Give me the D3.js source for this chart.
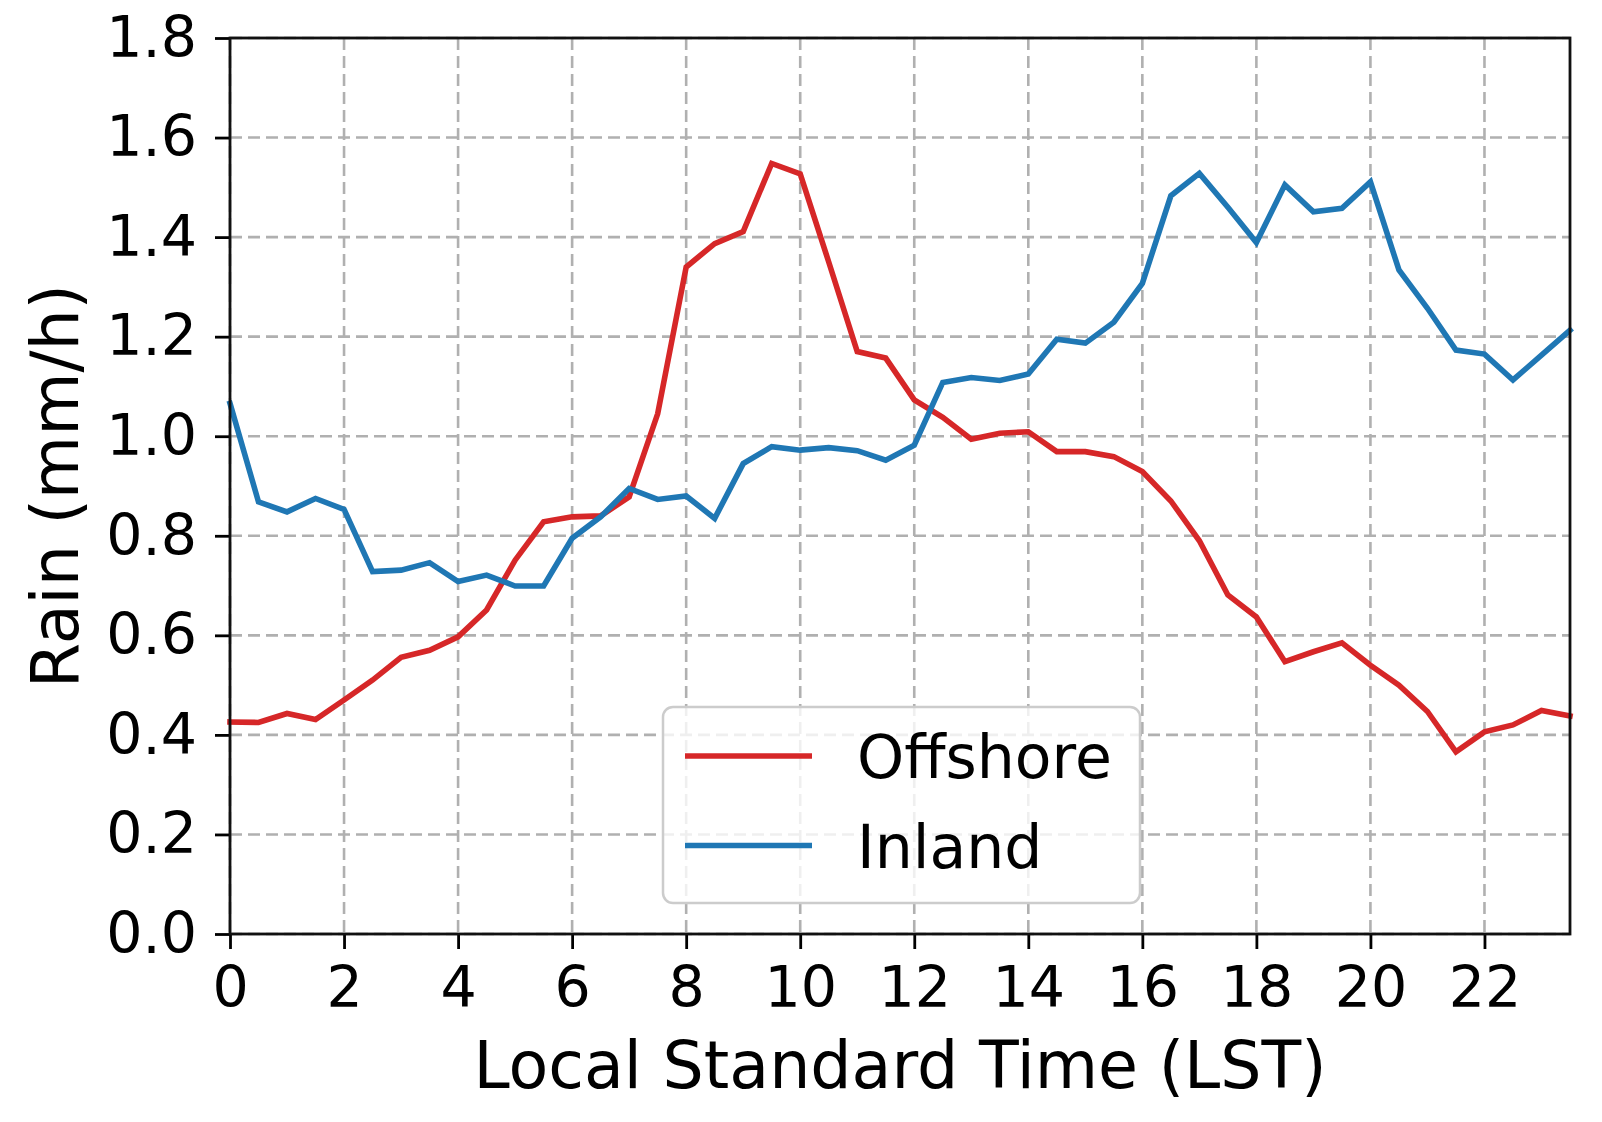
<!DOCTYPE html>
<html>
<head>
<meta charset="utf-8">
<script src="https://cdn.jsdelivr.net/npm/d3@7"></script>
<style>
  html, body { margin: 0; padding: 0; background: #fff; }
  svg { display: block; font-family: "DejaVu Sans", sans-serif; }
</style>
</head>
<body>
<svg id="chart" width="1602" height="1122"></svg>
<script>
const hours = [0, 0.5, 1, 1.5, 2, 2.5, 3, 3.5, 4, 4.5, 5, 5.5, 6, 6.5, 7, 7.5,
  8, 8.5, 9, 9.5, 10, 10.5, 11, 11.5, 12, 12.5, 13, 13.5, 14, 14.5, 15, 15.5,
  16, 16.5, 17, 17.5, 18, 18.5, 19, 19.5, 20, 20.5, 21, 21.5, 22, 22.5, 23, 23.5];

const offshore = [0.426, 0.425, 0.443, 0.431, 0.470, 0.510, 0.556, 0.570,
  0.597, 0.651, 0.751, 0.828, 0.838, 0.840, 0.878, 1.045,
  1.340, 1.387, 1.411, 1.548, 1.527, 1.350, 1.170, 1.157,
  1.073, 1.038, 0.994, 1.006, 1.009, 0.969, 0.969, 0.959,
  0.929, 0.870, 0.790, 0.681, 0.637, 0.547, 0.567, 0.585,
  0.540, 0.500, 0.447, 0.366, 0.406, 0.420, 0.449, 0.438];

const inland = [1.066, 0.868, 0.848, 0.875, 0.853, 0.728, 0.731, 0.746,
  0.708, 0.721, 0.699, 0.699, 0.795, 0.838, 0.895, 0.873,
  0.880, 0.835, 0.945, 0.979, 0.972, 0.977, 0.971, 0.952,
  0.982, 1.108, 1.118, 1.112, 1.125, 1.195, 1.187, 1.229,
  1.307, 1.483, 1.528, 1.460, 1.389, 1.505, 1.451, 1.458,
  1.511, 1.334, 1.257, 1.173, 1.165, 1.113, 1.163, 1.213];

const xTicks = [0, 2, 4, 6, 8, 10, 12, 14, 16, 18, 20, 22];
const yTicks = [0.0, 0.2, 0.4, 0.6, 0.8, 1.0, 1.2, 1.4, 1.6, 1.8];

const seriesNames = ["Offshore", "Inland"];
const seriesColors = ["#d62728", "#1f77b4"];

const svg = d3.select("#chart");
const L = 230, R = 1570, T = 38, B = 934;

const x = d3.scaleLinear().domain([0, 23.5]).range([L, R]);
const y = d3.scaleLinear().domain([0, 1.8]).range([B, T]);

// grid
const grid = svg.append("g");
grid.selectAll("line.gx").data(xTicks).join("line")
  .attr("x1", d => x(d)).attr("x2", d => x(d))
  .attr("y1", T).attr("y2", B)
  .attr("stroke", "#b0b0b0").attr("stroke-width", 2.6)
  .attr("stroke-dasharray", "12,6");
grid.selectAll("line.gy").data(yTicks).join("line")
  .attr("x1", L).attr("x2", R)
  .attr("y1", d => y(d)).attr("y2", d => y(d))
  .attr("stroke", "#b0b0b0").attr("stroke-width", 2.6)
  .attr("stroke-dasharray", "12,6");

// lines
const line = d3.line().x((d, i) => x(hours[i])).y(d => y(d));
[offshore, inland].forEach((s, k) => {
  svg.append("path").datum(s)
    .attr("d", line)
    .attr("fill", "none")
    .attr("stroke", seriesColors[k])
    .attr("stroke-width", 5.6)
    .attr("stroke-linejoin", "miter")
    .attr("stroke-linecap", "square");
});

// axes
const xAxis = d3.axisBottom(x).tickValues(xTicks).tickSize(15).tickPadding(18)
  .tickFormat(d3.format("d"));
const gx = svg.append("g").attr("transform", `translate(0,${B})`).call(xAxis);
gx.select(".domain").remove();
gx.selectAll("line").attr("stroke", "#000").attr("stroke-width", 2.8);
gx.selectAll("text").attr("font-size", 57).attr("fill", "#000")
  .attr("font-family", "DejaVu Sans");

const yAxis = d3.axisLeft(y).tickValues(yTicks).tickSize(15).tickPadding(18)
  .tickFormat(d3.format(".1f"));
const gy = svg.append("g").attr("transform", `translate(${L},0)`).call(yAxis);
gy.select(".domain").remove();
gy.selectAll("line").attr("stroke", "#000").attr("stroke-width", 2.8);
gy.selectAll("text").attr("font-size", 57).attr("fill", "#000")
  .attr("font-family", "DejaVu Sans");

// frame
svg.append("rect").attr("x", L).attr("y", T).attr("width", R - L).attr("height", B - T)
  .attr("fill", "none").attr("stroke", "#111").attr("stroke-width", 2.8);

// axis labels
svg.append("text").attr("x", (L + R) / 2).attr("y", 1088)
  .attr("text-anchor", "middle").attr("font-size", 65).attr("fill", "#000")
  .text("Local Standard Time (LST)");
svg.append("text")
  .attr("transform", `translate(78,${(T + B) / 2}) rotate(-90)`)
  .attr("text-anchor", "middle").attr("font-size", 65).attr("fill", "#000")
  .text("Rain (mm/h)");

// legend
const lg = svg.append("g");
lg.append("rect").attr("x", 663).attr("y", 707).attr("width", 477).attr("height", 196)
  .attr("rx", 10).attr("ry", 10)
  .attr("fill", "rgba(255,255,255,0.8)").attr("stroke", "#cccccc").attr("stroke-width", 2.5);
seriesNames.forEach((name, k) => {
  const cy = 756 + k * 89.5;
  lg.append("line").attr("x1", 685).attr("x2", 812).attr("y1", cy).attr("y2", cy)
    .attr("stroke", seriesColors[k]).attr("stroke-width", 5.6);
  lg.append("text").attr("x", 857).attr("y", cy + 22)
    .attr("font-size", 60).attr("fill", "#000").text(name);
});
</script>
</body>
</html>
